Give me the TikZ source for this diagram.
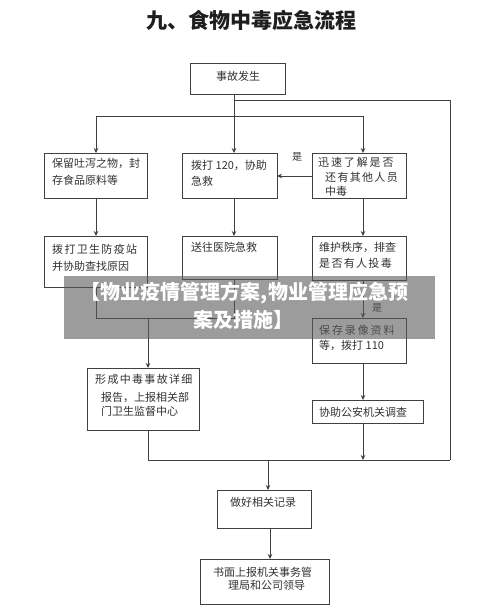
\documentclass[tikz,border=0pt]{standalone}
\usepackage{fontspec}
\setmainfont{Noto Sans CJK SC}
\newfontfamily\cjkw[LetterSpace=17]{Noto Sans CJK SC}
\newfontfamily\cjkm[LetterSpace=12]{Noto Sans CJK SC}
\usetikzlibrary{arrows.meta}
\definecolor{linegray}{RGB}{64,64,64}
\definecolor{textgray}{RGB}{50,50,50}
\definecolor{bannergray}{RGB}{90,90,90}
\tikzset{
  box/.style={draw=linegray, line width=0.9pt, inner sep=0pt, outer sep=0pt, anchor=north west},
  txt/.style={inner sep=0pt, anchor=west, text=textgray, font=\fontsize{11}{13}\selectfont},
  lbl/.style={inner sep=0pt, text=textgray, font=\fontsize{10}{12}\selectfont},
  arr/.style={draw=linegray, line width=0.9pt, -{Stealth[length=5pt,width=4.5pt]}},
  ln/.style={draw=linegray, line width=0.9pt},
  bantxt/.style={inner sep=0pt, text=white, font=\fontsize{20}{24}\selectfont\bfseries},
}
\begin{document}
\begin{tikzpicture}[x=1pt,y=-1pt]
\fill[white] (0,0) rectangle (500,615);
\useasboundingbox (0,0) rectangle (500,615);

% title
\node[inner sep=0pt, text={rgb,255:red,30;green,30;blue,30}, font=\fontsize{21}{25}\selectfont\bfseries] (title) at (251.5,20) {九、食物中毒应急流程};

% boxes
\node[box, minimum width=95pt, minimum height=31pt] (ev) at (190,63) {};
\node[box, minimum width=103pt, minimum height=45pt] (A1) at (44,153) {};
\node[box, minimum width=95pt, minimum height=45pt] (B1) at (182,153) {};
\node[box, minimum width=94pt, minimum height=45pt] (C1) at (312,153) {};
\node[box, minimum width=103pt, minimum height=51pt] (A2) at (44,236) {};
\node[box, minimum width=95pt, minimum height=43pt] (B2) at (182,236) {};
\node[box, minimum width=94pt, minimum height=44pt] (C2) at (312,236) {};
\node[box, minimum width=94pt, minimum height=45pt] (C3) at (312,318) {};
\node[box, minimum width=111pt, minimum height=23pt] (C4) at (312,400) {};
\node[box, minimum width=112pt, minimum height=62pt] (A3) at (87,368) {};
\node[box, minimum width=94pt, minimum height=38pt] (D1) at (217,490) {};
\node[box, minimum width=129pt, minimum height=45pt] (D2) at (200,559) {};

% texts
\node[txt, anchor=center] (evt) at (238,76) {事故发生};
\node[txt] (A1t1) at (52,163) {保留吐泻之物，封};
\node[txt] (A1t2) at (52,180) {存食品原料等};
\node[txt] (B1t1) at (191,165) {拨打 120，协助};
\node[txt] (B1t2) at (191,181) {急救};
\node[txt] (C1t1) at (318,162) {\cjkw 迅速了解是否};
\node[txt] (C1t2) at (325,177) {\cjkm 还有其他人员};
\node[txt] (C1t3) at (325,191) {中毒};
\node[txt] (A2t1) at (52,249) {\cjkm 拨打卫生防疫站};
\node[txt] (A2t2) at (52,266) {并协助查找原因};
\node[txt] (B2t1) at (191,247) {送往医院急救};
\node[txt] (C2t1) at (319,247) {维护秩序，排查};
\node[txt] (C2t2) at (319,263) {\cjkm 是否有人投毒};
\node[txt] (C3t1) at (319,330) {\cjkw 保存录像资料};
\node[txt] (C3t2) at (319,345) {等，拨打 110};
\node[txt] (C4t1) at (319,412) {协助公安机关调查};
\node[txt] (A3t1) at (95,379) {\cjkm 形成中毒事故详细};
\node[txt] (A3t2) at (101,397) {报告，上报相关部};
\node[txt] (A3t3) at (101,411) {门卫生监督中心};
\node[txt] (D1t1) at (230,502) {做好相关记录};
\node[txt] (D2t1) at (213,572) {书面上报机关事务管};
\node[txt] (D2t2) at (228,585) {理局和公司领导};

% connector coordinates
\coordinate (j1) at (234,100);
\coordinate (rt) at (450,100);
\coordinate (rb) at (450,460);
\coordinate (bar) at (234,116);
\coordinate (barL) at (96,116);
\coordinate (barR) at (363,116);
\coordinate (y1) at (0,176);
\coordinate (m1) at (148,318);
\coordinate (m2) at (148,460);
\coordinate (m3) at (268,460);
\coordinate (m4) at (270,528);

% connectors
\draw[ln] (ev.south -| j1) -- (bar);
\draw[ln] (j1) -- (rt) -- (rb);
\draw[ln] (barL) -- (barR);
\draw[arr] (barL) -- (barL |- A1.north);
\draw[arr] (bar) -- (bar |- B1.north);
\draw[arr] (barR) -- (barR |- C1.north);
\draw[arr] (C1.west |- y1) -- (B1.east |- y1);
\node[lbl] (yes1) at (297,157) {是};
\draw[arr] (A1.south -| barL) -- (A2.north -| barL);
\draw[arr] (B1.south -| bar) -- (B2.north -| bar);
\draw[arr] (C1.south -| barR) -- (C2.north -| barR);
\draw[ln] (A2.south -| barL) -- (barL |- m1) -- (bar |- m1) -- (B2.south -| bar);
\draw[arr] (m1) -- (m1 |- A3.north);
\draw[arr] (C2.south -| barR) -- (C3.north -| barR);
\node[lbl] (yes2) at (377,308) {是};
\draw[arr] (C3.south -| barR) -- (C4.north -| barR);
\draw[ln] (A3.south -| m2) -- (m2) -- (rb);
\draw[arr] (C4.south -| barR) -- (barR |- rb);
\draw[arr] (m3) -- (m3 |- D1.north);
\draw[arr] (D1.south -| m4) -- (D2.north -| m4);

% banner overlay
\fill[bannergray, opacity=0.6] (64,276) rectangle (435,339);
\node[bantxt] (ban1) at (244.5,293) {【物业疫情管理方案,物业管理应急预};
\node[bantxt] (ban2) at (243,320) {案及措施】};
\end{tikzpicture}
\end{document}
